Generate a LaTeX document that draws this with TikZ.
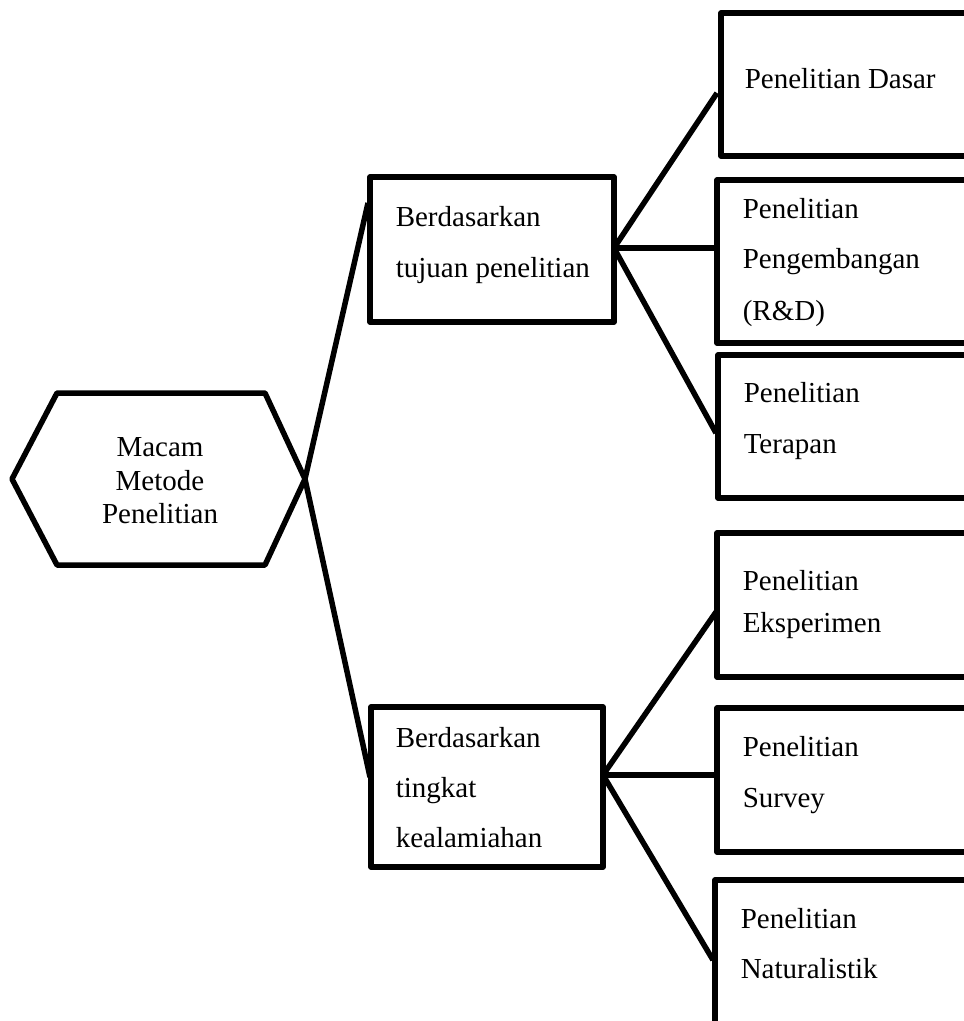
\documentclass[tikz,border=0pt]{standalone}
\usepackage{fontspec}
\setmainfont{Liberation Serif}
\usetikzlibrary{calc}
\begin{document}
\begin{tikzpicture}[x=1pt,y=-1pt,
  line width=5.5pt, line join=round,
  boxx/.style={draw=black, rectangle, inner sep=0pt, outer sep=0pt, anchor=north west},
  txt/.style={anchor=base west, inner sep=0pt, font=\fontsize{29}{33}\selectfont},
  ctxt/.style={anchor=base, inner sep=0pt, font=\fontsize{29}{33}\selectfont},
  conn/.style={draw=black, line width=5.5pt}]
\useasboundingbox (0,0) rectangle (964,1021);
\clip (0,0) rectangle (964,1021);
% hexagon
\coordinate (hL) at (12,479);
\coordinate (hTL) at (57,393);
\coordinate (hTR) at (265,393);
\coordinate (hR) at (305,479);
\coordinate (hBR) at (265,565);
\coordinate (hBL) at (57,565);
\draw (hL) -- (hTL) -- (hTR) -- (hR) -- (hBR) -- (hBL) -- cycle;
\node[ctxt] (t0a) at (160,456) {Macam};
\node[ctxt] (t0b) at (160,490) {Metode};
\node[ctxt] (t0c) at (160,523) {Penelitian};
% middle boxes
\node[boxx, minimum width=244pt, minimum height=145pt] (b1) at (370,177) {};
\node[boxx, minimum width=232pt, minimum height=160pt] (b2) at (371,707) {};
% right boxes
\node[boxx, minimum width=260pt, minimum height=143pt] (r1) at (721,13) {};
\node[boxx, minimum width=260pt, minimum height=163pt] (r2) at (717,180) {};
\node[boxx, minimum width=260pt, minimum height=143pt] (r3) at (718,355) {};
\node[boxx, minimum width=260pt, minimum height=144pt] (r4) at (717,533) {};
\node[boxx, minimum width=260pt, minimum height=144pt] (r5) at (717,708) {};
\node[boxx, minimum width=260pt, minimum height=160pt] (r6) at (715,880) {};
% texts
\node[txt] (tb1a) at (393,226) {Berdasarkan};
\node[txt] (tb1b) at (393,277) {tujuan penelitian};
\node[txt] (tb2a) at (393,747) {Berdasarkan};
\node[txt] (tb2b) at (393,797) {tingkat};
\node[txt] (tb2c) at (393,847) {kealamiahan};
\node[txt] (tr1) at (742,88) {Penelitian Dasar};
\node[txt] (tr2a) at (740,218) {Penelitian};
\node[txt] (tr2b) at (740,268) {Pengembangan};
\node[txt] (tr2c) at (740,320) {(R\&D)};
\node[txt] (tr3a) at (741,402) {Penelitian};
\node[txt] (tr3b) at (741,453) {Terapan};
\node[txt] (tr4a) at (740,590) {Penelitian};
\node[txt] (tr4b) at (740,632) {Eksperimen};
\node[txt] (tr5a) at (740,756) {Penelitian};
\node[txt] (tr5b) at (740,807) {Survey};
\node[txt] (tr6a) at (738,928) {Penelitian};
\node[txt] (tr6b) at (738,978) {Naturalistik};
% hubs
\coordinate (h1) at ($(b1.north east)+(0,71)$);
\coordinate (h2) at ($(b2.north east)+(0,68)$);
% connectors
\draw[conn] (hR) -- ($(b1.north west)+(-2,26)$);
\draw[conn] (hR) -- ($(b2.north west)+(-1,70)$);
\draw[conn] (h1) -- ($(r1.north west)+(-4,80)$);
\draw[conn] (h1) -- ($(r2.north west)+(0,68)$);
\draw[conn] (h1) -- ($(r3.north west)+(-2,78)$);
\draw[conn] (h2) -- ($(r4.north west)+(-1,79)$);
\draw[conn] (h2) -- ($(r5.north west)+(0,67)$);
\draw[conn] (h2) -- ($(r6.north west)+(-2,80)$);
\end{tikzpicture}
\end{document}
